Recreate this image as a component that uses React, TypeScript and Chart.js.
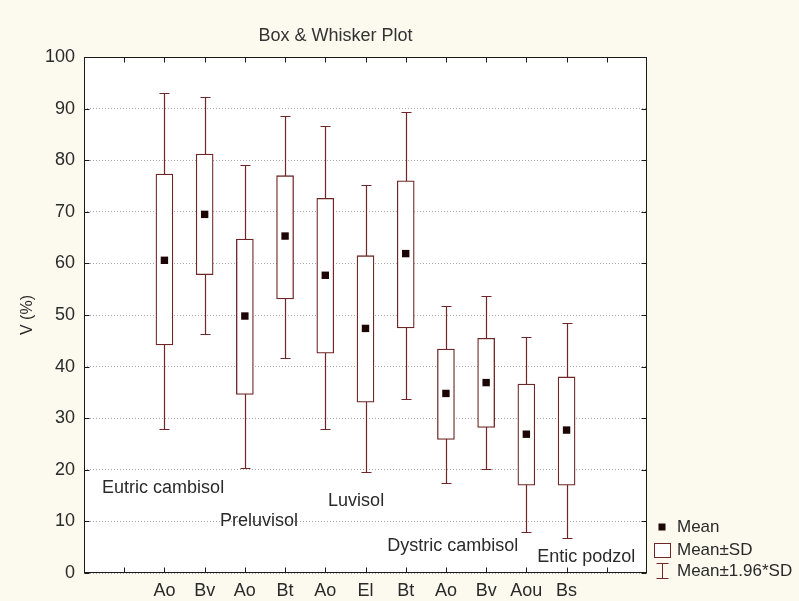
import { useEffect, useRef } from 'react';
import { Chart, registerables } from 'chart.js';

Chart.register(...registerables);

// ---- data ----
const categories = ['Ao', 'Bv', 'Ao', 'Bt', 'Ao', 'El', 'Bt', 'Ao', 'Bv', 'Aou', 'Bs'];
const means = [60.6, 69.5, 49.8, 65.3, 57.7, 47.4, 61.9, 34.8, 36.9, 26.9, 27.7];
const sdLow = [44.2, 57.8, 34.6, 53.1, 42.6, 33.1, 47.5, 25.9, 28.2, 17.0, 17.0];
const sdHigh = [77.3, 81.2, 64.7, 77.0, 72.6, 61.5, 76.0, 43.4, 45.5, 36.6, 38.0];
const ciLow = [28.0, 46.4, 20.4, 41.7, 28.0, 19.6, 33.8, 17.5, 20.1, 7.9, 6.7];
const ciHigh = [93.1, 92.3, 79.1, 88.6, 86.7, 75.2, 89.4, 51.7, 53.6, 45.8, 48.4];
const soilGroups = ['Eutric cambisol', 'Preluvisol', 'Luvisol', 'Dystric cambisol', 'Entic podzol'];
const legendLabels = ['Mean', 'Mean±SD', 'Mean±1.96*SD'];
const yMin = 0;
const yMax = 100;
const yStep = 10;

// ---- layout / style (not data) ----
const soilGroupAnchors = [
  { x: 0.45, y: 16.5 },
  { x: 3.38, y: 10.1 },
  { x: 6.07, y: 14.0 },
  { x: 7.54, y: 5.2 },
  { x: 11.27, y: 3.1 },
];
const FONT = '"Liberation Sans", Arial, sans-serif';
const CREAM = '#fcf9ee';
const BOX_COLOR = '#6e2626';
const MEAN_COLOR = '#1c0505';
const TEXT_COLOR = '#2a2a2a';

const positions = categories.map((_, i) => i + 2);
const tickSlots = Array.from({ length: categories.length + 2 }, (_, i) => i + 1);

const boxPlugin = {
  id: 'statBox',
  beforeDraw(chart: any) {
    const { ctx, chartArea: a } = chart;
    ctx.save();
    ctx.fillStyle = '#ffffff';
    ctx.fillRect(a.left, a.top, a.right - a.left, a.bottom - a.top);
    ctx.restore();
  },
  beforeDatasetsDraw(chart: any) {
    const { ctx, scales } = chart;
    const xs = scales.x;
    const ys = scales.y;
    ctx.save();
    ctx.strokeStyle = BOX_COLOR;
    ctx.lineWidth = 1.2;
    positions.forEach((p, i) => {
      const x = Math.round(xs.getPixelForValue(p)) + 0.5;
      const yt = Math.round(ys.getPixelForValue(ciHigh[i])) + 0.5;
      const yb = Math.round(ys.getPixelForValue(ciLow[i])) + 0.5;
      ctx.beginPath();
      ctx.moveTo(x, yt);
      ctx.lineTo(x, yb);
      ctx.moveTo(x - 5, yt);
      ctx.lineTo(x + 5, yt);
      ctx.moveTo(x - 5, yb);
      ctx.lineTo(x + 5, yb);
      ctx.stroke();
    });
    ctx.restore();
  },
  afterDraw(chart: any) {
    const { ctx, chartArea: a, scales } = chart;
    const xs = scales.x;
    const ys = scales.y;
    ctx.save();
    // frame
    ctx.strokeStyle = '#1a1a1a';
    ctx.lineWidth = 1;
    const L = Math.round(a.left) + 0.5;
    const R = Math.round(a.right) - 0.5;
    const T = Math.round(a.top) + 0.5;
    const B = Math.round(a.bottom) - 0.5;
    ctx.strokeRect(L, T, R - L, B - T);
    ctx.beginPath();
    ys.ticks.forEach((t: any) => {
      const y = Math.round(ys.getPixelForValue(t.value)) + 0.5;
      ctx.moveTo(L, y);
      ctx.lineTo(L + 5, y);
      ctx.moveTo(R, y);
      ctx.lineTo(R - 5, y);
    });
    xs.ticks.forEach((t: any) => {
      const x = Math.round(xs.getPixelForValue(t.value)) + 0.5;
      ctx.moveTo(x, B);
      ctx.lineTo(x, B - 5);
      ctx.moveTo(x, T);
      ctx.lineTo(x, T + 5);
    });
    ctx.stroke();

    // soil group annotations
    ctx.fillStyle = TEXT_COLOR;
    ctx.font = `18px ${FONT}`;
    ctx.textAlign = 'left';
    ctx.textBaseline = 'middle';
    soilGroups.forEach((g, i) => {
      const an = soilGroupAnchors[i];
      ctx.fillText(g, xs.getPixelForValue(an.x), ys.getPixelForValue(an.y));
    });

    // legend
    const ix = a.right + 15;
    const tx = a.right + 30;
    const rows = [a.bottom - 46, a.bottom - 23, a.bottom - 2];
    ctx.fillStyle = MEAN_COLOR;
    ctx.fillRect(ix - 3.5, rows[0] - 3.5, 7, 7);
    ctx.strokeStyle = BOX_COLOR;
    ctx.fillStyle = '#ffffff';
    ctx.fillRect(ix - 8, rows[1] - 7, 16, 14);
    ctx.strokeRect(Math.round(ix - 8) + 0.5, Math.round(rows[1] - 7) + 0.5, 16, 14);
    ctx.beginPath();
    const wx = Math.round(ix) + 0.5;
    const wt = Math.round(rows[2] - 8) + 0.5;
    const wb = Math.round(rows[2] + 7) + 0.5;
    ctx.moveTo(wx, wt);
    ctx.lineTo(wx, wb);
    ctx.moveTo(wx - 6, wt);
    ctx.lineTo(wx + 6, wt);
    ctx.moveTo(wx - 6, wb);
    ctx.lineTo(wx + 6, wb);
    ctx.stroke();
    ctx.fillStyle = TEXT_COLOR;
    ctx.font = `17px ${FONT}`;
    legendLabels.forEach((l, i) => ctx.fillText(l, tx, rows[i]));
    ctx.restore();
  },
};

export default function App() {
  const ref = useRef<HTMLCanvasElement>(null);
  useEffect(() => {
    const chart = new Chart(ref.current as HTMLCanvasElement, {
      type: 'bar',
      data: {
        datasets: [
          {
            type: 'scatter',
            label: legendLabels[0],
            data: positions.map((x, i) => ({ x, y: means[i] })),
            pointStyle: 'rect',
            pointRadius: 3.7 * Math.SQRT2,
            pointHoverRadius: 3.7 * Math.SQRT2,
            backgroundColor: MEAN_COLOR,
            borderWidth: 0,
            order: 0,
          } as any,
          {
            type: 'bar',
            label: legendLabels[1],
            data: positions.map((x, i) => ({ x, y: [sdLow[i], sdHigh[i]] })),
            backgroundColor: '#ffffff',
            borderColor: BOX_COLOR,
            borderWidth: 1.3,
            borderSkipped: false,
            barThickness: 17,
            order: 1,
          } as any,
        ],
      },
      options: {
        responsive: false,
        animation: false,
        devicePixelRatio: 1,
        events: [],
        layout: { padding: { left: 24, right: 152, top: 0, bottom: 0 } },
        plugins: {
          legend: { display: false },
          tooltip: { enabled: false },
          title: {
            display: true,
            text: 'Box & Whisker Plot',
            color: '#333333',
            font: { family: FONT, size: 18, weight: 'normal' },
            padding: { top: 25, bottom: 10.4 },
          },
        },
        scales: {
          x: {
            type: 'linear',
            offset: false,
            min: 0,
            max: categories.length + 3,
            afterBuildTicks: (s: any) => {
              s.ticks = tickSlots.map((v) => ({ value: v }));
            },
            afterFit: (s: any) => {
              s.height = 28;
            },
            grid: { display: false, drawTicks: false, offset: false },
            border: { display: false },
            ticks: {
              autoSkip: false,
              maxRotation: 0,
              padding: 7,
              color: TEXT_COLOR,
              font: { family: FONT, size: 18 },
              callback: (v: any) => categories[Number(v) - 2] ?? '',
            },
          },
          y: {
            type: 'linear',
            min: yMin,
            max: yMax,
            afterFit: (s: any) => {
              s.width = 60;
            },
            ticks: {
              stepSize: yStep,
              padding: 9,
              color: TEXT_COLOR,
              font: { family: FONT, size: 18 },
            },
            grid: { color: '#a8a8a8', drawTicks: false },
            border: { display: false, dash: [1, 2] },
            title: {
              display: true,
              text: 'V (%)',
              color: TEXT_COLOR,
              font: { family: FONT, size: 16 },
              padding: { top: -6, bottom: 0 },
            },
          },
        },
      } as any,
      plugins: [boxPlugin],
    });
    return () => chart.destroy();
  }, []);
  return (
    <div style={{ position: 'absolute', left: 0, top: 0, width: 799, height: 601, background: CREAM }}>
      <canvas ref={ref} width={799} height={601} style={{ display: 'block' }} />
    </div>
  );
}
